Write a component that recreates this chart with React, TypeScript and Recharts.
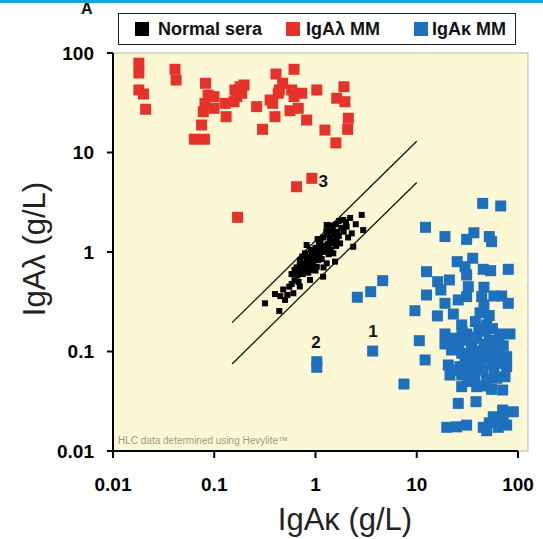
import React from 'react';
import { ScatterChart, Scatter, XAxis, YAxis, ReferenceArea, ReferenceLine, ReferenceDot } from 'recharts';

const xTicks = [0.01, 0.1, 1, 10, 100];
const yTicks = [0.01, 0.1, 1, 10, 100];
const xDomain = [0.01, 125.6];
const yDomain = [0.01, 100];

const normalSeraPts: [number, number][] = [
  [0.317, 0.305], [0.398, 0.378], [0.439, 0.255], [0.527, 0.37], [0.551, 0.448], [0.604, 0.385], [0.582, 0.477],
  [0.818, 1.175], [1.29, 1.87], [1.88, 2.1], [2.86, 2.36], [2.96, 1.66], [2.28, 1.54], [2.36, 1.13], [1.56, 0.8],
  [1.19, 0.565], [0.883, 0.524], [0.703, 0.611], [0.758, 0.769], [0.951, 0.897], [1.11, 1.05], [1.39, 1.32],
  [1.62, 1.32], [1.75, 1.22], [1.03, 0.711], [1.29, 0.769], [1.5, 0.97], [2.03, 1.8], [1.45, 1.22], [0.883, 0.659],
  [1.07, 0.832], [0.787, 0.97], [0.703, 0.832],
  [0.62, 0.52], [0.66, 0.58], [0.68, 0.5], [0.72, 0.66], [0.75, 0.6], [0.78, 0.72], [0.8, 0.68], [0.82, 0.85],
  [0.85, 0.75], [0.88, 0.9], [0.9, 0.8], [0.92, 1.0], [0.95, 0.78], [0.98, 0.92], [1.0, 1.1], [1.02, 0.88],
  [1.05, 1.0], [1.08, 1.2], [1.1, 0.95], [1.12, 1.3], [1.15, 1.1], [1.18, 1.0], [1.2, 1.4], [1.22, 1.15],
  [1.25, 1.05], [1.3, 1.5], [1.32, 1.2], [1.35, 1.1], [1.38, 1.6], [1.4, 1.4], [1.42, 1.05], [1.48, 1.7],
  [1.52, 1.3], [1.55, 1.5], [1.6, 1.9], [1.65, 1.6], [1.7, 1.45], [1.8, 1.75], [1.9, 1.6], [2.0, 2.0],
  [2.1, 1.4], [2.2, 2.2], [2.5, 1.9], [0.48, 0.42], [0.5, 0.33], [0.45, 0.36], [0.58, 0.6], [0.65, 0.7],
  [0.7, 0.45], [0.85, 0.62], [1.0, 0.65], [1.2, 0.7],
  [0.74, 0.9], [0.9, 1.05], [1.05, 1.35], [1.28, 1.62], [0.96, 0.7], [1.15, 0.85], [1.35, 0.95], [1.6, 1.15],
  [0.62, 0.66], [0.7, 0.75], [1.7, 2.05], [1.45, 1.85],
];

const lambdaPts: [number, number][] = [
  [0.018, 79], [0.018, 63], [0.018, 42.5], [0.02, 38.7], [0.021, 27.2],
  [0.041, 68.6], [0.042, 53.5],
  [0.082, 49.6], [0.087, 37.8], [0.0995, 36.4], [0.081, 31.2], [0.0995, 27.8], [0.078, 25.7], [0.075, 18.9],
  [0.0635, 13.6], [0.08, 13.6],
  [0.128, 31.2], [0.131, 22.9],
  [0.16, 42.5], [0.18, 45.8], [0.197, 47.7], [0.167, 36.4], [0.157, 32.4], [0.187, 39.4],
  [0.262, 28.9], [0.3, 17.1],
  [0.356, 33.7], [0.378, 31.2], [0.398, 22.9],
  [0.407, 61.5], [0.474, 49.6], [0.439, 42.5], [0.429, 39.4],
  [0.614, 68.6], [0.582, 42.5], [0.614, 36.4], [0.56, 26.3], [0.676, 27.8], [0.731, 39.4],
  [0.818, 21.2], [1.03, 42.5],
  [1.24, 16.8], [1.59, 12.5],
  [1.62, 35.1], [1.91, 45.8], [1.95, 32.4],
  [2.11, 22.1], [2.08, 17.1],
  [0.17, 2.23], [0.65, 4.53], [0.92, 5.5],
];

const kappaPts: [number, number][] = [
  [2.59, 0.351], [3.51, 0.399], [4.61, 0.515], [3.67, 0.101], [1.03, 0.079], [1.03, 0.0694],
  [44.8, 3.08], [67.5, 2.9],
  [12.2, 1.77], [19.0, 1.43], [31.1, 1.34], [36.7, 1.56], [52.1, 1.43], [54.9, 1.27],
  [25.1, 0.8], [35.7, 0.865], [30.0, 0.711], [45.4, 0.67], [53.7, 0.649], [80.2, 0.67],
  [12.5, 0.634], [16.1, 0.503], [21.0, 0.524], [31.1, 0.587], [32.3, 0.448], [46.1, 0.442], [57.9, 0.361],
  [69.0, 0.361], [80.2, 0.305],
  [12.5, 0.37], [17.3, 0.415], [19.0, 0.305], [25.7, 0.33], [31.1, 0.356], [43.8, 0.356], [46.1, 0.293], [42.2, 0.245],
  [9.6, 0.257], [16.0, 0.228], [23.0, 0.238], [27.8, 0.185], [49.1, 0.185], [83.4, 0.15],
  [10.6, 0.1285], [19.0, 0.15], [19.0, 0.119], [23.9, 0.136], [31.1, 0.15], [39.1, 0.136], [46.1, 0.119],
  [57.0, 0.112], [71.6, 0.114],
  [22.1, 0.1035], [27.8, 0.096], [34.9, 0.1035], [43.8, 0.0887], [60.7, 0.096], [77.3, 0.0887],
  [12.1, 0.0822], [20.5, 0.0732], [26.7, 0.0704], [33.6, 0.0704], [42.2, 0.0715], [61.6, 0.076], [77.3, 0.0704],
  [21.3, 0.058], [27.8, 0.058], [37.6, 0.0558], [49.1, 0.0517], [61.6, 0.0538], [74.4, 0.0558],
  [27.8, 0.0443], [39.1, 0.0443], [54.9, 0.0417], [70.6, 0.041],
  [7.48, 0.0471],
  [25.7, 0.0301], [38.5, 0.0313],
  [70.6, 0.0258], [89.9, 0.0248], [57.0, 0.0221],
  [19.8, 0.0173], [24.8, 0.0175], [31.1, 0.0182], [45.4, 0.0173], [52.1, 0.0192], [63.9, 0.0173], [77.3, 0.0182],
  [49.1, 0.016], [71.6, 0.0205],
  [35, 0.12], [50, 0.1], [40, 0.08], [55, 0.075], [30, 0.085], [45, 0.065], [65, 0.13], [38, 0.2], [52, 0.23], [60, 0.09],
  [22, 0.12], [26, 0.11], [29, 0.13], [33, 0.09], [36, 0.14], [42, 0.1], [47, 0.085], [52, 0.13], [58, 0.065],
  [63, 0.1], [68, 0.08], [25, 0.065], [32, 0.05], [44, 0.045], [48, 0.16], [56, 0.17], [66, 0.15], [41, 0.17],
  [28, 0.16], [35, 0.06],
];

const boundLines: [number, number, number, number][] = [
  [0.15, 0.195, 10, 13],
  [0.15, 0.075, 10, 5],
];

const annotations: [number, number, string][] = [
  [1.19, 5.2, '3'],
  [1.01, 0.124, '2'],
  [3.7, 0.16, '1'],
];

const toObj = (arr: [number, number][]) => arr.map(([x, y]) => ({ x, y }));
const normalSera = toObj(normalSeraPts);
const lambdaMM = toObj(lambdaPts);
const kappaMM = toObj(kappaPts);

const FONT = '"Liberation Sans", Arial, Helvetica, sans-serif';
const RED = '#E5322A';
const BLUE = '#1E6FBC';

const square = (size: number, color: string) => (props: any) => {
  const { cx, cy } = props;
  if (cx == null || cy == null) return <g />;
  return <rect x={cx - size / 2} y={cy - size / 2} width={size} height={size} fill={color} />;
};

const legendItems = [
  { label: 'Normal sera', color: '#000', sq: 16, tx: 39 },
  { label: 'IgAλ MM', color: RED, sq: 167, tx: 187 },
  { label: 'IgAκ MM', color: BLUE, sq: 295, tx: 313 },
];

export default function App() {
  return (
    <div style={{ position: 'absolute', left: 0, top: 0, width: 543, height: 539, background: '#fff', fontFamily: FONT, overflow: 'hidden' }}>
      <div style={{ position: 'absolute', left: 81, top: 1, fontSize: 16, fontWeight: 'bold', color: '#111', lineHeight: '16px' }}>A</div>
      <div style={{ position: 'absolute', left: 0, top: 0, width: 543, height: 3, background: '#1AA3D9' }} />
      <ScatterChart width={543} height={539} margin={{ top: 53, right: 15, bottom: 0, left: 0 }}>
        <ReferenceArea x1={xDomain[0]} x2={xDomain[1]} y1={yDomain[0]} y2={yDomain[1]} fill="#FCF8D6" fillOpacity={1} stroke="#B9B59C" strokeWidth={1} ifOverflow="visible" />
        <XAxis
          type="number" dataKey="x" scale="log" domain={xDomain} allowDataOverflow ticks={xTicks}
          tickFormatter={(v: number) => String(v)} height={88}
          axisLine={false} tickLine={{ stroke: '#000', strokeWidth: 2 }} tickSize={7} tickMargin={20}
          tick={{ fontSize: 19, fontWeight: 'bold', fill: '#000', fontFamily: FONT }}
        />
        <YAxis
          type="number" dataKey="y" scale="log" domain={yDomain} allowDataOverflow ticks={yTicks}
          tickFormatter={(v: number) => String(v)} width={113}
          axisLine={{ stroke: '#000', strokeWidth: 2 }} tickLine={{ stroke: '#000', strokeWidth: 2 }} tickSize={6} tickMargin={13}
          tick={{ fontSize: 19, fontWeight: 'bold', fill: '#000', fontFamily: FONT }}
        />
        <ReferenceLine segment={[{ x: 0.01, y: 0.01 }, { x: 100, y: 0.01 }]} stroke="#000" strokeWidth={2} ifOverflow="visible" />
        {boundLines.map(([x1, y1, x2, y2], i) => (
          <ReferenceLine key={i} segment={[{ x: x1, y: y1 }, { x: x2, y: y2 }]} stroke="#111" strokeWidth={1.3} />
        ))}
        <Scatter name="IgAλ MM" data={lambdaMM} shape={square(11, RED)} isAnimationActive={false} />
        <Scatter name="IgAκ MM" data={kappaMM} shape={square(11, BLUE)} isAnimationActive={false} />
        <Scatter name="Normal sera" data={normalSera} shape={square(6, '#000')} isAnimationActive={false} />
        {annotations.map(([x, y, t], i) => (
          <ReferenceDot key={i} x={x} y={y} r={1} fill="none" stroke="none"
            label={{ value: t, position: 'center', fontSize: 17, fontWeight: 'bold', fill: '#111', fontFamily: FONT }} />
        ))}
      </ScatterChart>
      <div style={{ position: 'absolute', left: 118, top: 13, width: 398, height: 32, boxSizing: 'border-box', border: '1.5px solid #222', background: '#fff' }}>
        {legendItems.map((it) => (
          <React.Fragment key={it.label}>
            <div style={{ position: 'absolute', left: it.sq, top: 8, width: 14, height: 14, background: it.color }} />
            <div style={{ position: 'absolute', left: it.tx, top: 4, fontSize: 18, fontWeight: 'bold', color: '#111', lineHeight: '22px', whiteSpace: 'nowrap' }}>{it.label}</div>
          </React.Fragment>
        ))}
      </div>
      <div style={{ position: 'absolute', left: 118, top: 435, fontSize: 10, color: '#9B9A88', whiteSpace: 'nowrap' }}>HLC data determined using Hevylite™</div>
      <div style={{ position: 'absolute', left: 345, top: 520, transform: 'translate(-50%, -50%)', fontSize: 31, color: '#222', whiteSpace: 'nowrap' }}>IgAκ (g/L)</div>
      <div style={{ position: 'absolute', left: 35, top: 249, transform: 'translate(-50%, -50%) rotate(-90deg)', fontSize: 31, color: '#222', whiteSpace: 'nowrap' }}>IgAλ (g/L)</div>
    </div>
  );
}
